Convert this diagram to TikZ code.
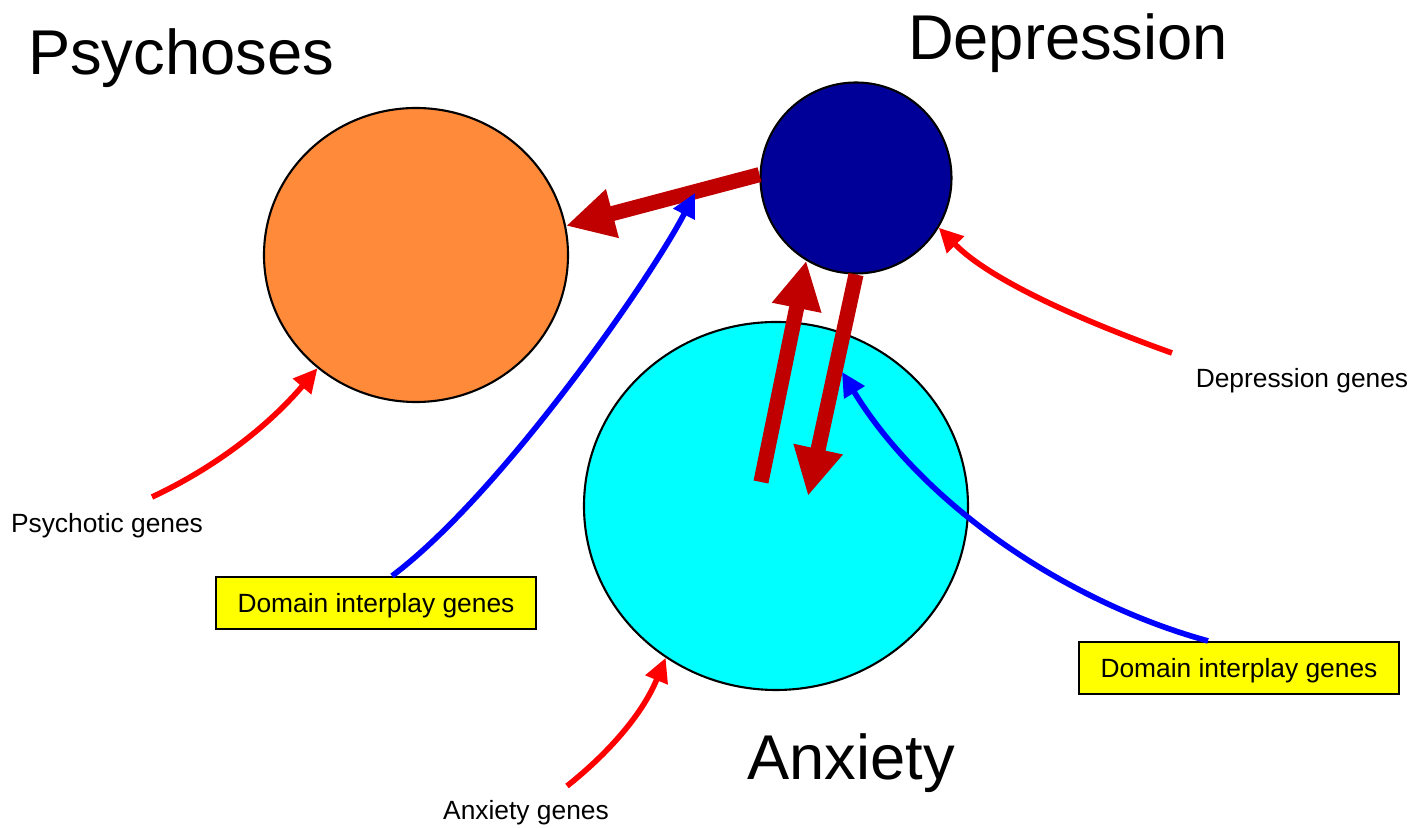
\documentclass[tikz,border=0pt]{standalone}
\usepackage{fontspec}
\setsansfont{Liberation Sans}
\usetikzlibrary{arrows.meta,shapes.geometric}

\begin{document}
\begin{tikzpicture}[font=\sffamily]
  \definecolor{psyorange}{HTML}{FF8A3A}
  \definecolor{depblue}{HTML}{000099}
  \definecolor{anxcyan}{HTML}{00FFFF}
  \definecolor{link}{HTML}{C00000}
  \definecolor{gene}{HTML}{FF0000}
  \definecolor{interplay}{HTML}{0000FF}
  \definecolor{note}{HTML}{FFFF00}
  \path[use as bounding box] (0,0) rectangle (14.16,8.28);

  % Three domains as outlined blobs, every arrow lands on a rim.
  \tikzset{blob/.style={draw=black,line width=.6pt,inner sep=0pt},
           title/.style={font=\sffamily\fontsize{18}{20}\selectfont,anchor=base,inner sep=0pt},
           genes/.style={font=\sffamily\fontsize{7.5}{9}\selectfont,anchor=base,inner sep=0pt},
           interbox/.style={draw=black,fill=note,line width=.6pt,inner sep=0pt,text depth=0pt,
                            minimum width=3.2cm,minimum height=.52cm,
                            font=\sffamily\fontsize{7.5}{9}\selectfont},
           bigarrow/.style={link,line width=4.3pt,-{Triangle[length=.48cm,width=.47cm]}},
           genearrow/.style={gene,line width=1.6pt,-{Triangle[length=.24cm,width=.23cm]}},
           blendarrow/.style={interplay,line width=1.6pt,-{Triangle[length=.24cm,width=.23cm]}}}

  \node[blob,ellipse,fill=psyorange,minimum width=3.04cm,minimum height=2.94cm] (psy) at (4.16,5.73) {};
  \node[blob,circle,fill=depblue,minimum size=1.91cm] (depr) at (8.56,6.50) {};
  \node[blob,ellipse,fill=anxcyan,minimum width=3.84cm,minimum height=3.68cm] (anx) at (7.76,3.22) {};

  \node[title] (psyt) at (1.81,7.53) {Psychoses};
  \node[title] (dept) at (10.68,7.68) {Depression};
  \node[title] (anxt) at (8.51,0.48) {Anxiety};

  \node[genes] (psyg) at (1.07,2.95) {Psychotic genes};
  \node[genes] (depg) at (13.02,4.40) {Depression genes};
  \node[genes] (anxg) at (5.26,0.08) {Anxiety genes};

  \node[interbox] (lbox) at (3.76,2.25) {Domain interplay genes};
  \node[interbox] (rbox) at (12.39,1.60) {Domain interplay genes};

  \coordinate (uptail) at (7.61,3.46);
  \coordinate (downtip) at (8.08,3.32);
  \coordinate (psygt) at (1.52,3.31);
  \coordinate (depgt) at (11.72,4.75);
  \coordinate (anxgt) at (5.67,0.42);
  \coordinate (lbtip) at (6.95,6.35);
  \coordinate (rbtip) at (8.42,4.56);

  \draw[bigarrow] (depr.178) -- (psy.11);
  \draw[bigarrow] (uptail) -- (depr.239);
  \draw[bigarrow] (depr.south) -- (downtip);

  \draw[genearrow] (psygt) .. controls (2.10,3.58) and (2.65,3.98) .. (psy.229);
  \draw[genearrow] (depgt) .. controls (10.80,5.08) and (9.90,5.48) .. (depr.-31);
  \draw[genearrow] (anxgt) .. controls (6.00,0.68) and (6.40,1.08) .. (anx.234);

  \draw[blendarrow] ([xshift=1.6mm]lbox.north) .. controls (5.00,3.33) and (6.50,5.48) .. (lbtip);
  \draw[blendarrow] ([xshift=-3.1mm]rbox.north) .. controls (10.60,2.28) and (9.20,3.28) .. (rbtip);
\end{tikzpicture}
\end{document}
